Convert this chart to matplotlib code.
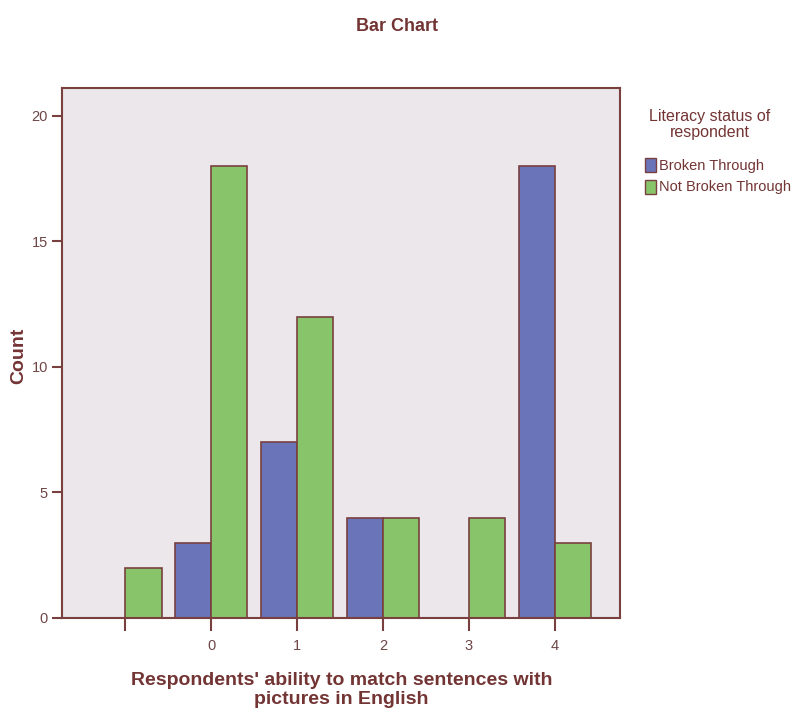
import matplotlib.pyplot as plt
import numpy as np
from matplotlib.patches import Patch

categories = ["", "0", "1", "2", "3", "4"]
broken_through = [0, 3, 7, 4, 0, 18]
not_broken_through = [2, 18, 12, 4, 4, 3]

text_col = "#733434"
tick_col = "#6e4646"
edge_col = "#7a3f3f"
blue = "#6a74b8"
green = "#88c46a"

plt.rcParams['font.family'] = ['Liberation Sans', 'DejaVu Sans']

fig = plt.figure(figsize=(7.94, 7.15), dpi=100)
ax = fig.add_axes([0.078, 0.1357, 0.703, 0.741])
ax.set_facecolor("#ebe7ea")

x = np.arange(len(categories)) - 1
w = 0.42
ax.bar(x - w / 2, broken_through, width=w, color=blue, edgecolor=edge_col, linewidth=1.2)
ax.bar(x + w / 2, not_broken_through, width=w, color=green, edgecolor=edge_col, linewidth=1.2)

ax.set_xlim(-1.74, 4.76)
ax.set_ylim(0, 21.1)
ax.set_xticks(x)
ax.set_xticklabels(categories)
ax.set_yticks([0, 5, 10, 15, 20])

for s in ax.spines.values():
    s.set_color(edge_col)
    s.set_linewidth(1.5)
ax.tick_params(axis="both", colors=edge_col, length=7, width=1.5, labelcolor=tick_col, labelsize=10.5)
ax.tick_params(axis="y", pad=3)
ax.tick_params(axis="x", pad=6, length=9)

# axis labels placed by hand to match the reference layout
fig.text(0.024, 0.502, "Count", ha="center", va="center", rotation=90, fontsize=14,
         fontweight="bold", color=text_col)
fig.text(0.43, 0.035, "Respondents' ability to match sentences with\npictures in English", ha="center",
         va="center", fontsize=14, fontweight="bold", color=text_col, linespacing=1.15)
fig.text(0.5, 0.963, "Bar Chart", ha="center", va="center", fontsize=13, fontweight="bold", color=text_col)

handles = [Patch(facecolor=blue, edgecolor=edge_col, label="Broken Through"),
           Patch(facecolor=green, edgecolor=edge_col, label="Not Broken Through")]
fig.text(0.894, 0.826, "Literacy status of\nrespondent", ha="center", va="center", fontsize=11.5,
         color=text_col, linespacing=1.15)
fig.legend(handles=handles, loc="upper left", bbox_to_anchor=(0.812, 0.779), frameon=False,
           fontsize=10.5, handlelength=0.8, handleheight=1.1, handletextpad=0.15, labelspacing=0.45,
           labelcolor=text_col, borderaxespad=0, borderpad=0)

plt.savefig("out.png", dpi=100)
